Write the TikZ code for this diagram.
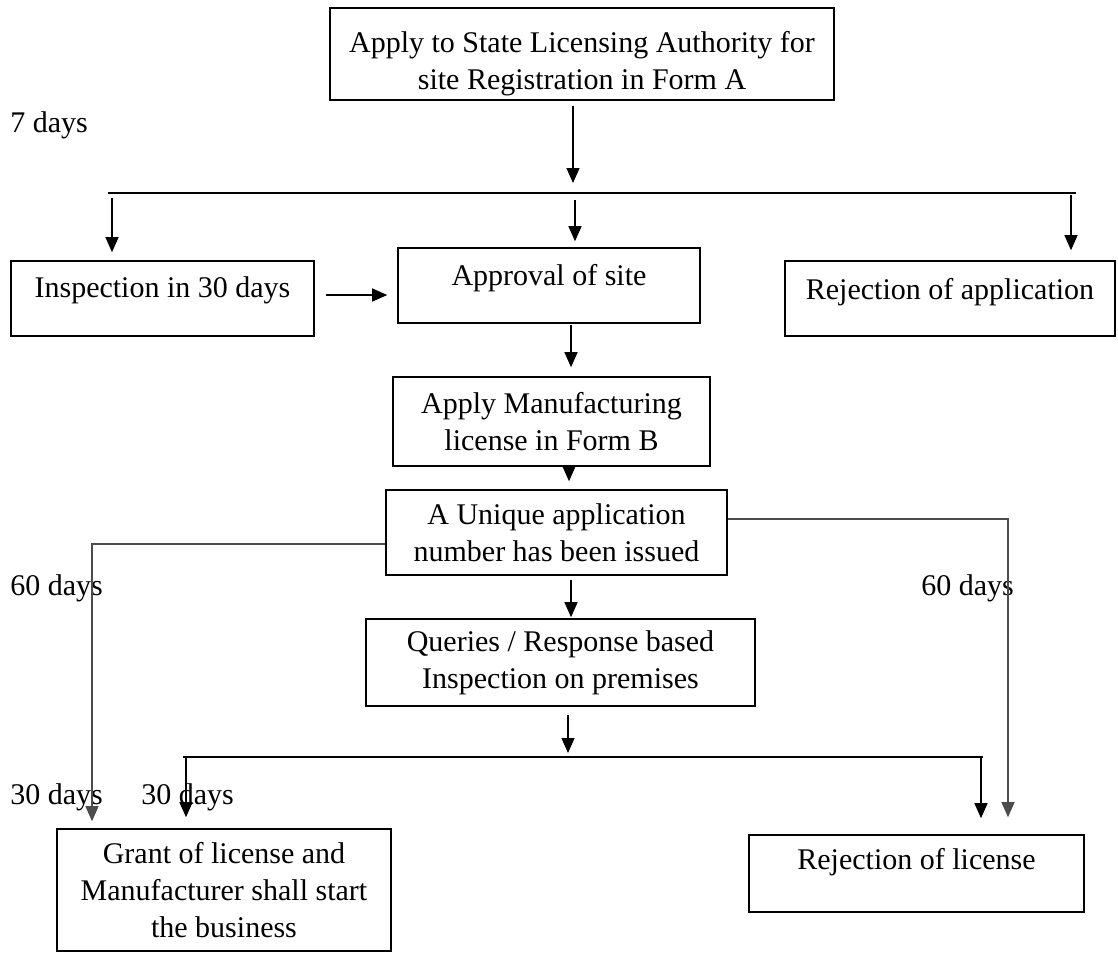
\documentclass[tikz,border=0pt]{standalone}
\usepackage{fontspec}
\setmainfont{Liberation Serif}
\usetikzlibrary{arrows.meta,positioning}

\begin{document}
\begin{tikzpicture}[x=0.5pt,y=-0.5pt,
        every node/.append style={font=\fontsize{15}{18.5}\selectfont},
        box/.style={draw,line width=0.8pt,align=center,inner sep=0pt},
        lbl/.style={inner sep=0pt,anchor=west},
        arr/.style={-{Triangle[length=7.5pt,width=6.5pt]},line width=0.6pt},
        bus/.style={line width=0.8pt},
        grayline/.style={draw=black!70}]
    \useasboundingbox (0,0) rectangle (1118,954);
    \node[box,minimum width=252pt,minimum height=46pt] (apply) at (582,54) {\rule{0pt}{20pt}Apply to State Licensing Authority for\\site Registration in Form A};
    \node[box,minimum width=151.5pt,minimum height=37.5pt,text depth=11.3pt] (insp) at (162.5,298.5) {Inspection in 30 days};
    \node[box,minimum width=151pt,minimum height=37.5pt,text depth=10.3pt] (approval) at (549,285.5) {Approval of site};
    \node[box,minimum width=165pt,minimum height=37.5pt,text depth=9.8pt] (rejapp) at (950,298.5) {Rejection of application};
    \node[box,minimum width=158.5pt,minimum height=44.5pt] (mfg) at (551.5,421.5) {Apply Manufacturing\\license in Form B};
    \node[box,minimum width=170.5pt,minimum height=42.5pt] (unique) at (556.5,532.5) {A Unique application\\number has been issued};
    \node[box,minimum width=194.5pt,minimum height=43.5pt] (queries) at (560.5,662.5) {Queries / Response based\\Inspection on premises};
    \node[box,minimum width=167pt,minimum height=61pt] (grant) at (224,890) {Grant of license and\\Manufacturer shall start\\the business};
    \node[box,minimum width=167.5pt,minimum height=38.5pt,text depth=14.8pt] (rejlic) at (916.5,873.5) {Rejection of license};

    \node[lbl] (d7) at (10,125) {7 days};
    \node[lbl] (d60l) at (10,588) {60 days};
    \node[lbl] (d60r) at (921,588) {60 days};
    \node[lbl] (d30a) at (10,797) {30 days};
    \node[lbl] (d30b) at (141,797) {30 days};

    \coordinate (hub1) at (573,183);
    \coordinate (bus1w) at (108,193);
    \coordinate (bus1e) at (1076,193);
    \coordinate (t1) at (112,198);
    \coordinate (t2) at (575,200);
    \coordinate (t3) at (1071,195);
    \coordinate (hub2) at (568,753);
    \coordinate (bus2w) at (183,757);
    \coordinate (bus2e) at (983,757);
    \coordinate (s1) at (186,757);
    \coordinate (s2) at (981,757);
    \coordinate (l60) at (92,544);
    \coordinate (r60) at (1008,519);

    \draw[arr,shorten <=2.5pt] (apply.south -| hub1) -- (hub1);
    \draw[bus] (bus1w) -- (bus1e);
    \draw[arr,shorten >=4pt] (t1) -- (t1 |- insp.north);
    \draw[arr,shorten >=3pt] (t2) -- (t2 |- approval.north);
    \draw[arr,shorten >=5pt] (t3) -- (t3 |- rejapp.north);
    \draw[arr,shorten <=5.5pt,shorten >=5pt] ([yshift=1.75pt]insp.east) -- ([yshift=1.75pt]insp.east -| approval.west);
    \draw[arr,shorten <=0.5pt,shorten >=4.5pt] ([xshift=11pt]approval.south) -- ([xshift=11pt]approval.south |- mfg.north);
    \draw[arr,shorten >=4pt] ([xshift=8.75pt]mfg.south) -- ([xshift=8.75pt]mfg.south |- unique.north);
    \draw[arr,shorten <=2pt,shorten >=0.5pt] ([xshift=7.25pt]unique.south) -- ([xshift=7.25pt]unique.south |- queries.north);
    \draw[arr,shorten <=4pt] (queries.south -| hub2) -- (hub2);
    \draw[bus] (bus2w) -- (bus2e);
    \draw[arr,shorten >=5.5pt] (s1) -- (s1 |- grant.north);
    \draw[arr,shorten >=8pt] (s2) -- (s2 |- rejlic.north);
    \draw[arr,grayline,shorten >=3.5pt] ([yshift=-5.75pt]unique.west) -- (l60) -- (l60 |- grant.north);
    \draw[arr,grayline,shorten >=8.5pt] ([yshift=6.75pt]unique.east) -- (r60) -- (r60 |- rejlic.north);
\end{tikzpicture}
\end{document}
